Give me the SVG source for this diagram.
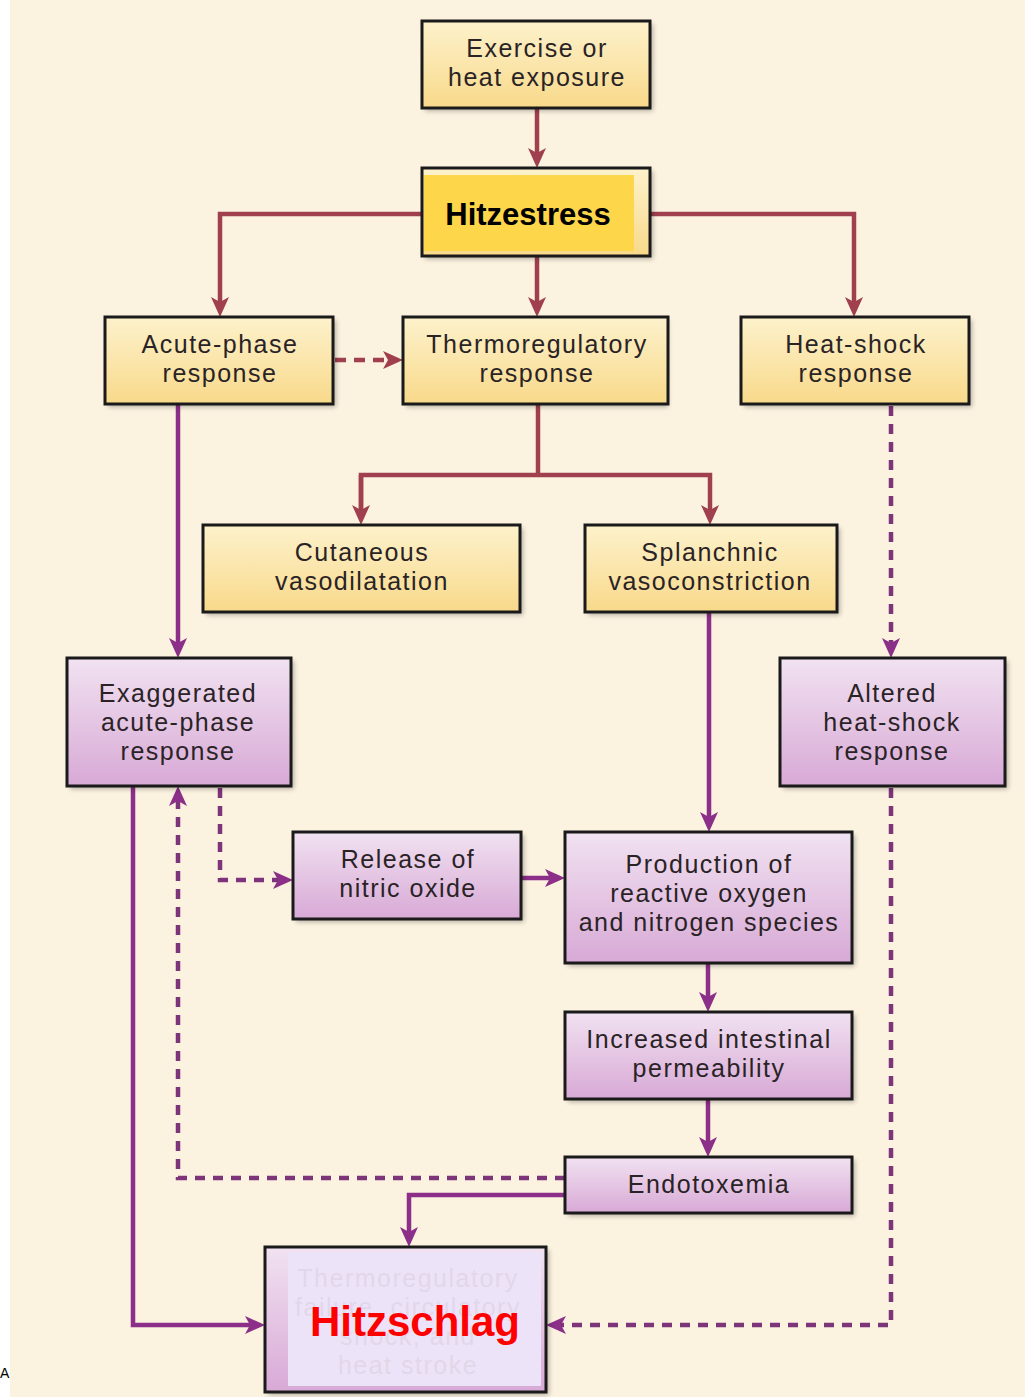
<svg xmlns="http://www.w3.org/2000/svg" width="1025" height="1397" viewBox="0 0 1025 1397">
<style>
.box{stroke:#1a1a1a;stroke-width:3}
.y{fill:url(#gy)}
.p{fill:url(#gp)}
.sh{fill:#000;opacity:0.28;filter:url(#blur)}
.t{font-family:"Liberation Sans",Arial,sans-serif;font-size:25px;letter-spacing:1.5px;fill:#2a2326;text-anchor:middle}
.c{fill:none;stroke-width:4.5}
.m{stroke:#a0404f}
.pu{stroke:#8c2f88}
.pd{stroke:#7d3479;stroke-dasharray:10 8}
.md{stroke:#a0404f;stroke-dasharray:11 8}
</style>
<defs>
<linearGradient id="gy" x1="0" y1="0" x2="0" y2="1">
<stop offset="0" stop-color="#fdf2cc"/>
<stop offset="1" stop-color="#f8d98a"/>
</linearGradient>
<linearGradient id="gp" x1="0" y1="0" x2="0" y2="1">
<stop offset="0" stop-color="#f1e2f1"/>
<stop offset="1" stop-color="#d8a9d6"/>
</linearGradient>
<filter id="blur" x="-10%" y="-10%" width="120%" height="120%"><feGaussianBlur stdDeviation="2.5"/></filter>
<marker id="am" markerUnits="userSpaceOnUse" markerWidth="22" markerHeight="20" refX="10" refY="10" orient="auto"><path d="M0,1 L20,10 L0,19 L5,10 z" fill="#a0404f"/></marker>
<marker id="ap" markerUnits="userSpaceOnUse" markerWidth="22" markerHeight="20" refX="10" refY="10" orient="auto"><path d="M0,1 L20,10 L0,19 L5,10 z" fill="#8c2f88"/></marker>
</defs>
<rect x="0" y="0" width="1025" height="1397" fill="#ffffff"/>
<rect x="10" y="0" width="1015" height="1397" fill="#fbf2e0"/>
<text x="0" y="1378" font-family="Liberation Sans,Arial,sans-serif" font-size="14" fill="#000">A</text>

<g id="connectors">
<path class="c m" d="M537,108 V158" marker-end="url(#am)"/>
<path class="c m" d="M422,214 H220 V307" marker-end="url(#am)"/>
<path class="c m" d="M537,256 V307" marker-end="url(#am)"/>
<path class="c m" d="M650,214 H854 V307" marker-end="url(#am)"/>
<path class="c md" d="M335,360 H393" marker-end="url(#am)"/>
<path class="c m" d="M538,404 V475"/>
<path class="c m" d="M361,515 V475 H710 V515" marker-end="url(#am)"/>
<path class="c m" d="M361,475 V515" marker-end="url(#am)"/>
<path class="c pu" d="M178,404 V648" marker-end="url(#ap)"/>
<path class="c pd" d="M891,406 V648" marker-end="url(#ap)"/>
<path class="c pu" d="M709,612 V822" marker-end="url(#ap)"/>
<path class="c pd" d="M220,788 V880 H283" marker-end="url(#ap)"/>
<path class="c pu" d="M521,878 H555" marker-end="url(#ap)"/>
<path class="c pu" d="M708,963 V1002" marker-end="url(#ap)"/>
<path class="c pu" d="M708,1099 V1147" marker-end="url(#ap)"/>
<path class="c pd" d="M565,1178 H178 V796" marker-end="url(#ap)"/>
<path class="c pu" d="M565,1195 H409 V1237" marker-end="url(#ap)"/>
<path class="c pu" d="M133,786 V1325 H255" marker-end="url(#ap)"/>
<path class="c pd" d="M891,788 V1325 H556" marker-end="url(#ap)"/>
</g>

<g id="exercise">
<rect class="sh" x="425" y="24" width="228" height="87"/>
<rect class="box y" x="422" y="21" width="228" height="87"/>
<text class="t" x="537" y="57">Exercise or</text>
<text class="t" x="537" y="86">heat exposure</text>
</g>

<g id="hitzestress">
<rect class="sh" x="425" y="171" width="228" height="88"/>
<rect class="box y" x="422" y="168" width="228" height="88"/>
<rect x="424" y="175" width="210" height="76" fill="#fdd64a"/>
<text x="528" y="225" font-family="Liberation Sans,Arial,sans-serif" font-size="31" font-weight="bold" fill="#000" text-anchor="middle">Hitzestress</text>
</g>

<g id="acute">
<rect class="sh" x="108" y="320" width="228" height="87"/>
<rect class="box y" x="105" y="317" width="228" height="87"/>
<text class="t" x="220" y="353">Acute-phase</text>
<text class="t" x="220" y="382">response</text>
</g>

<g id="thermo">
<rect class="sh" x="406" y="320" width="262" height="87"/>
<rect class="box y" x="403" y="317" width="265" height="87"/>
<text class="t" x="537" y="353">Thermoregulatory</text>
<text class="t" x="537" y="382">response</text>
</g>

<g id="heatshock">
<rect class="sh" x="744" y="320" width="228" height="87"/>
<rect class="box y" x="741" y="317" width="228" height="87"/>
<text class="t" x="856" y="353">Heat-shock</text>
<text class="t" x="856" y="382">response</text>
</g>

<g id="cutaneous">
<rect class="sh" x="206" y="528" width="317" height="87"/>
<rect class="box y" x="203" y="525" width="317" height="87"/>
<text class="t" x="362" y="561">Cutaneous</text>
<text class="t" x="362" y="590">vasodilatation</text>
</g>

<g id="splanchnic">
<rect class="sh" x="588" y="528" width="252" height="87"/>
<rect class="box y" x="585" y="525" width="252" height="87"/>
<text class="t" x="710" y="561">Splanchnic</text>
<text class="t" x="710" y="590">vasoconstriction</text>
</g>

<g id="exaggerated">
<rect class="sh" x="70" y="661" width="224" height="128"/>
<rect class="box p" x="67" y="658" width="224" height="128"/>
<text class="t" x="178" y="702">Exaggerated</text>
<text class="t" x="178" y="731">acute-phase</text>
<text class="t" x="178" y="760">response</text>
</g>

<g id="altered">
<rect class="sh" x="783" y="661" width="225" height="128"/>
<rect class="box p" x="780" y="658" width="225" height="128"/>
<text class="t" x="892" y="702">Altered</text>
<text class="t" x="892" y="731">heat-shock</text>
<text class="t" x="892" y="760">response</text>
</g>

<g id="nitric">
<rect class="sh" x="296" y="835" width="228" height="87"/>
<rect class="box p" x="293" y="832" width="228" height="87"/>
<text class="t" x="408" y="868">Release of</text>
<text class="t" x="408" y="897">nitric oxide</text>
</g>

<g id="production">
<rect class="sh" x="568" y="835" width="287" height="131"/>
<rect class="box p" x="565" y="832" width="287" height="131"/>
<text class="t" x="709" y="873">Production of</text>
<text class="t" x="709" y="902">reactive oxygen</text>
<text class="t" x="709" y="931">and nitrogen species</text>
</g>

<g id="intestinal">
<rect class="sh" x="568" y="1015" width="287" height="87"/>
<rect class="box p" x="565" y="1012" width="287" height="87"/>
<text class="t" x="709" y="1048">Increased intestinal</text>
<text class="t" x="709" y="1077">permeability</text>
</g>

<g id="endotoxemia">
<rect class="sh" x="568" y="1160" width="287" height="56"/>
<rect class="box p" x="565" y="1157" width="287" height="56"/>
<text class="t" x="709" y="1193">Endotoxemia</text>
</g>

<g id="hitzschlag">
<rect class="sh" x="268" y="1250" width="281" height="145"/>
<rect class="box p" x="265" y="1247" width="281" height="145"/>
<rect x="288" y="1252" width="253" height="134" fill="#ede3f8"/>
<g fill="#e2d7ea" font-family="Liberation Sans,Arial,sans-serif" font-size="25" letter-spacing="1.5" text-anchor="middle">
<text x="408" y="1287">Thermoregulatory</text>
<text x="408" y="1316">failure, circulatory</text>
<text x="408" y="1345">shock, and</text>
<text x="408" y="1374">heat stroke</text>
</g>
<text x="415" y="1336" font-family="Liberation Sans,Arial,sans-serif" font-size="42" font-weight="bold" fill="#ff0000" text-anchor="middle">Hitzschlag</text>
</g>
</svg>
